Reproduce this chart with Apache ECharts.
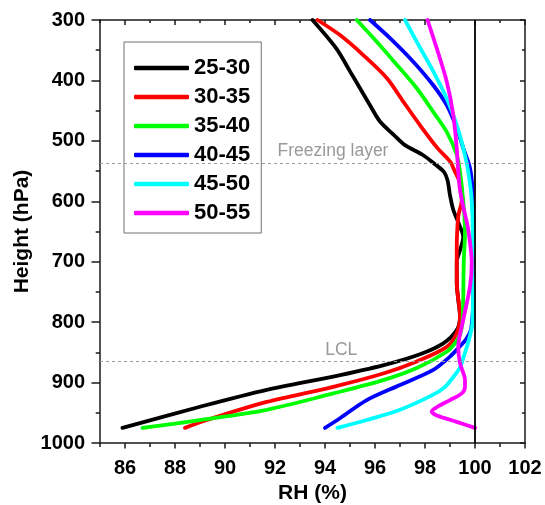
<!DOCTYPE html>
<html>
<head>
<meta charset="utf-8">
<script src="https://cdn.jsdelivr.net/npm/echarts@6/dist/echarts.min.js"></script>
<style>
html,body{margin:0;padding:0;background:#fff;}
#chart{width:545px;height:505px;}
</style>
</head>
<body>
<div id="chart"></div>
<script>
// ---- data (RH %, pressure hPa) ----
const seriesNames = ['25-30', '30-35', '35-40', '40-45', '45-50', '50-55'];
const seriesColors = ['#000000', '#ff0000', '#00ff00', '#0000ff', '#00ffff', '#ff00ff'];

const p_25_30 = [300,347,385,413,441,468,490,507,523,537,551,565,590,614,642,659,681,700,735,763,791,813,835,853,871,890,912,940,975];
const rh_25_30 = [93.5,94.45,95.0,95.4,95.8,96.2,96.75,97.2,97.9,98.35,98.75,98.9,99.0,99.13,99.4,99.53,99.4,99.27,99.27,99.33,99.4,99.27,98.73,97.8,96.35,94.33,91.67,89.0,85.9];

const p_30_35 = [300,325,358,396,435,474,512,534,551,570,598,625,681,735,791,818,841,865,885,907,932,962,975];
const rh_30_35 = [93.7,94.6,95.53,96.47,97.13,97.8,98.5,99.0,99.2,99.4,99.47,99.33,99.27,99.27,99.4,99.27,98.87,97.67,96.33,94.33,91.67,89.27,88.4];

const p_35_40 = [300,336,374,413,452,485,523,551,600,650,700,760,800,821,835,849,876,896,918,945,962,975];
const rh_35_40 = [95.27,96.07,96.87,97.67,98.33,98.87,99.27,99.4,99.53,99.6,99.55,99.53,99.5,99.4,99.2,98.87,97.67,96.33,94.33,91.67,89.0,86.7];

const p_40_45 = [300,330,369,408,441,479,512,545,580,650,750,810,828,840,857,879,904,929,959,975];
const rh_40_45 = [95.8,96.6,97.53,98.33,98.87,99.27,99.53,99.8,99.9,99.93,99.93,99.85,99.65,99.4,99.0,98.33,97.0,95.67,94.6,94.0];

const p_45_50 = [300,336,385,430,474,512,551,600,700,800,830,857,875,890,907,920,945,962,975];
const rh_45_50 = [97.2,97.67,98.33,98.87,99.27,99.53,99.73,99.87,99.93,99.9,99.75,99.55,99.4,99.15,98.8,98.33,97.0,95.67,94.5];

const p_50_55 = [300,347,402,457,512,551,581,609,647,703,741,796,841,868,896,907,918,929,940,948,954,965,975];
const rh_50_55 = [98.1,98.47,98.87,99.13,99.27,99.33,99.4,99.53,99.73,99.87,99.8,99.53,99.33,99.4,99.6,99.6,99.47,99.0,98.5,98.27,98.45,99.27,100.0];

const xMajorTicks = [86, 88, 90, 92, 94, 96, 98, 100, 102];
const xMinorTicks = [85, 87, 89, 91, 93, 95, 97, 99, 101];
const freezingLevel = 537;
const lclLevel = 864;
const saturationRH = 100;
const annotations = [
  { name: 'Freezing layer', rh: 94.32, p: 517 },
  { name: 'LCL', rh: 94.65, p: 846 }
];

const allP = [p_25_30, p_30_35, p_35_40, p_40_45, p_45_50, p_50_55];
const allRH = [rh_25_30, rh_30_35, rh_35_40, rh_40_45, rh_45_50, rh_50_55];

const chart = echarts.init(document.getElementById('chart'), null, { renderer: 'canvas' });
const FONT = '"Liberation Sans", Arial, sans-serif';
const AXC = '#1a1a1a';

const lineSeries = seriesNames.map((name, i) => ({
  name: name,
  type: 'line',
  xAxisIndex: 0,
  yAxisIndex: 0,
  showSymbol: false,
  symbol: 'none',
  smooth: 0.3,
  z: 3,
  lineStyle: { color: seriesColors[i], width: 3.8, cap: 'round', join: 'round' },
  itemStyle: { color: seriesColors[i] },
  data: allP[i].map((p, k) => [allRH[i][k], p])
}));

const refSeries = {
  name: 'refs',
  type: 'line',
  data: [],
  xAxisIndex: 0,
  yAxisIndex: 0,
  z: 5,
  markLine: {
    silent: true,
    symbol: 'none',
    animation: false,
    label: { show: false },
    data: [
      { yAxis: freezingLevel, lineStyle: { color: '#9a9a9a', width: 1.2, type: [3, 3] } },
      { yAxis: lclLevel, lineStyle: { color: '#9a9a9a', width: 1.2, type: [3, 3] } },
      { xAxis: saturationRH, lineStyle: { color: '#000', width: 1.8, type: 'solid' } }
    ]
  }
};

const textSeries = {
  name: 'annot',
  type: 'scatter',
  xAxisIndex: 0,
  yAxisIndex: 0,
  symbolSize: 0,
  silent: true,
  z: 4,
  label: {
    show: true,
    position: 'inside',
    formatter: '{b}',
    color: '#808080',
    fontFamily: FONT,
    fontSize: 17.5
  },
  data: annotations.map(a => ({ name: a.name, value: [a.rh, a.p] }))
};

const baseX = { type: 'value', min: 85, max: 102, splitLine: { show: false } };
const baseY = { type: 'value', min: 300, max: 1000, interval: 100, inverse: true, splitLine: { show: false } };

chart.setOption({
  animation: false,
  backgroundColor: '#fff',
  grid: { left: 100, right: 20, top: 20, bottom: 62, containLabel: false, outerBoundsMode: 'none' },
  legend: {
    data: seriesNames,
    orient: 'vertical',
    left: 124,
    top: 42,
    width: 139,
    padding: [15, 11, 9, 10],
    itemGap: 7,
    itemWidth: 55,
    itemHeight: 4.5,
    icon: 'roundRect',
    backgroundColor: '#fff',
    borderColor: '#707070',
    borderWidth: 1,
    borderRadius: 0,
    textStyle: { fontFamily: FONT, fontSize: 22, fontWeight: 'bold', color: '#000' },
    selectedMode: false
  },
  xAxis: [
    Object.assign({}, baseX, {
      position: 'bottom',
      name: 'RH (%)',
      nameLocation: 'middle',
      nameGap: 40,
      nameMoveOverlap: false,
      nameTextStyle: { fontFamily: FONT, fontSize: 21, fontWeight: 'bold', color: '#000' },
      axisLine: { show: true, onZero: false, lineStyle: { color: AXC, width: 1.5 } },
      axisTick: { show: true, inside: false, length: 5.5, customValues: xMajorTicks, lineStyle: { color: AXC, width: 1.5 } },
      axisLabel: { show: true, customValues: xMajorTicks, margin: 15, fontFamily: FONT, fontSize: 20, fontWeight: 'bold', color: '#000' }
    }),
    Object.assign({}, baseX, {
      position: 'bottom',
      axisLine: { show: false, onZero: false },
      axisTick: { show: true, inside: false, length: 4, customValues: xMinorTicks, lineStyle: { color: AXC, width: 1.5 } },
      axisLabel: { show: false }
    }),
    Object.assign({}, baseX, {
      position: 'top',
      axisLine: { show: true, onZero: false, lineStyle: { color: AXC, width: 1.5 } },
      axisTick: { show: true, inside: true, length: 5, customValues: xMajorTicks, lineStyle: { color: AXC, width: 1.5 } },
      axisLabel: { show: false }
    }),
    Object.assign({}, baseX, {
      position: 'top',
      axisLine: { show: false, onZero: false },
      axisTick: { show: true, inside: true, length: 3, customValues: xMinorTicks, lineStyle: { color: AXC, width: 1.5 } },
      axisLabel: { show: false }
    })
  ],
  yAxis: [
    Object.assign({}, baseY, {
      position: 'left',
      name: 'Height (hPa)',
      nameLocation: 'middle',
      nameGap: 67,
      nameRotate: 90,
      nameMoveOverlap: false,
      nameTextStyle: { fontFamily: FONT, fontSize: 21, fontWeight: 'bold', color: '#000' },
      axisLine: { show: true, onZero: false, lineStyle: { color: AXC, width: 1.5 } },
      axisTick: { show: true, inside: false, length: 8.5, lineStyle: { color: AXC, width: 1.5 } },
      minorTick: { show: true, splitNumber: 2, length: 4.3, lineStyle: { color: AXC, width: 1.5 } },
      axisLabel: { show: true, margin: 15, formatter: v => String(v), fontFamily: FONT, fontSize: 20, fontWeight: 'bold', color: '#000' }
    }),
    Object.assign({}, baseY, {
      position: 'right',
      axisLine: { show: true, onZero: false, lineStyle: { color: AXC, width: 1.5 } },
      axisTick: { show: true, inside: true, length: 5, lineStyle: { color: AXC, width: 1.5 } },
      minorTick: { show: true, splitNumber: 2, length: 3, lineStyle: { color: AXC, width: 1.5 } },
      axisLabel: { show: false }
    })
  ],
  series: lineSeries.concat([refSeries, textSeries])
});
</script>
</body>
</html>
